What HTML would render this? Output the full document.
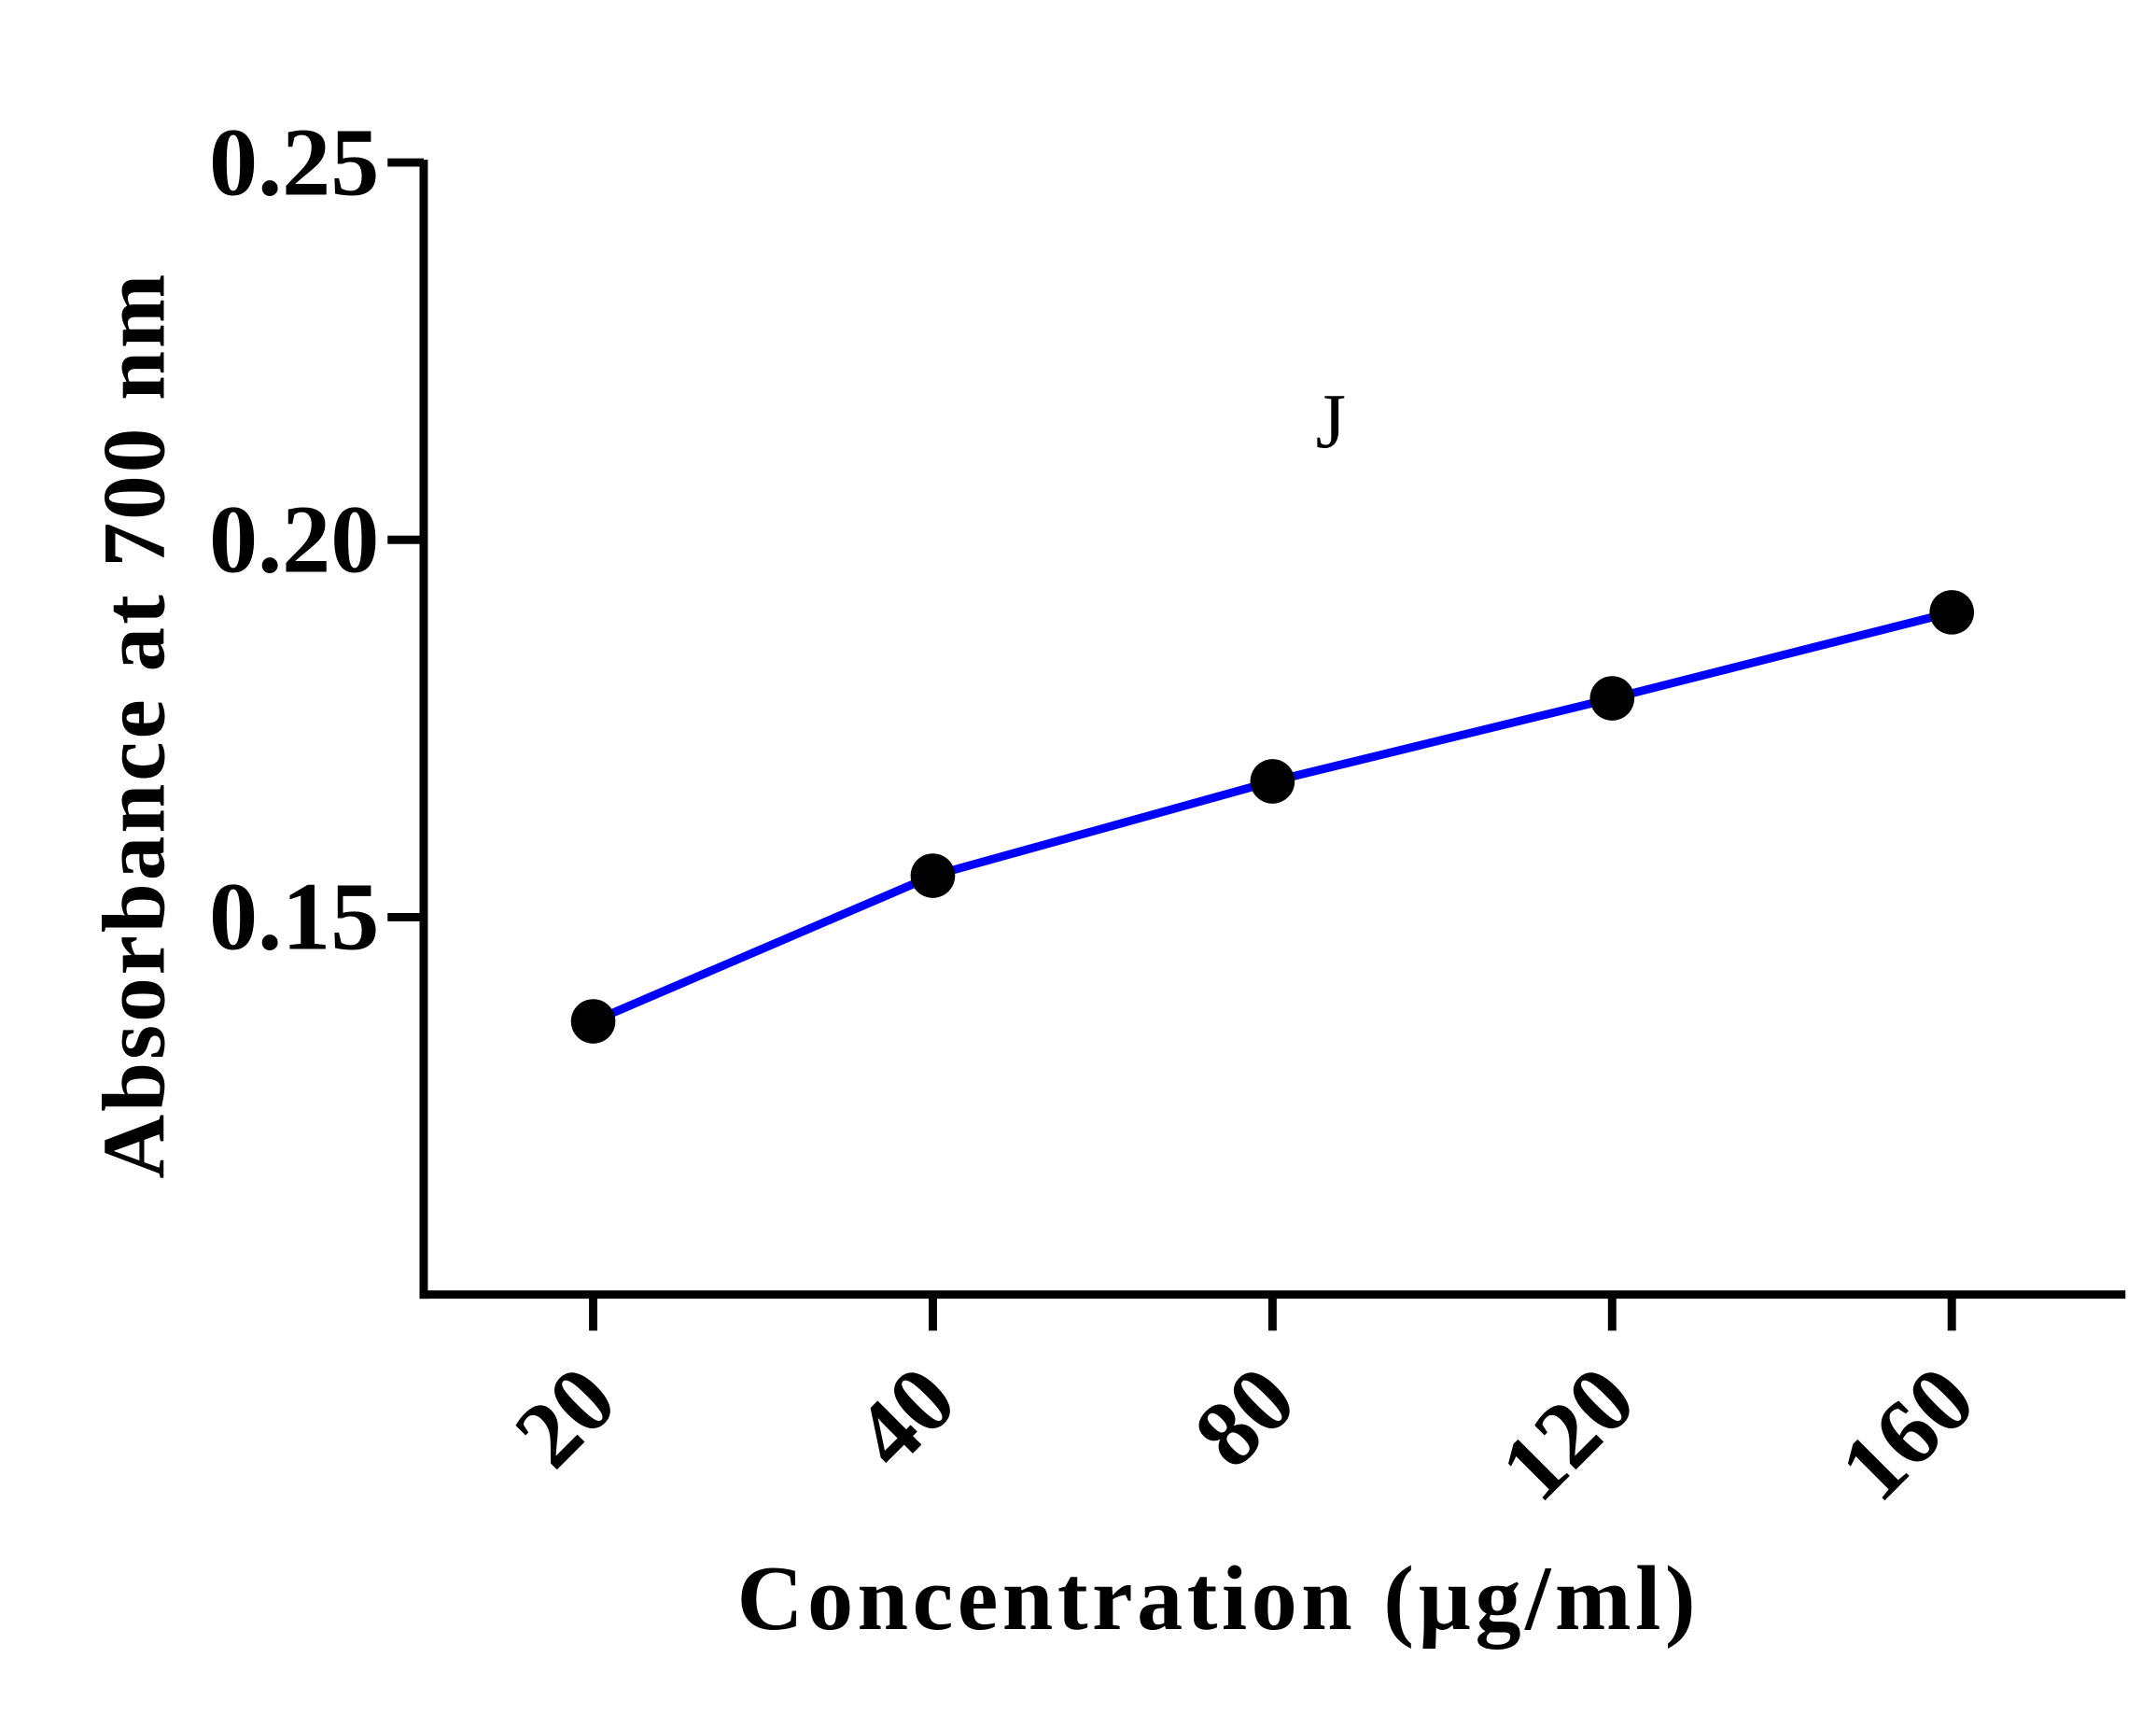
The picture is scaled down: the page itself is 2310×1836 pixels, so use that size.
<!DOCTYPE html>
<html><head><meta charset="utf-8"><style>html,body{margin:0;padding:0;background:#fff;}svg{display:block}</style></head>
<body>
<svg width="2310" height="1836" viewBox="0 0 1552 1234" preserveAspectRatio="none" xmlns="http://www.w3.org/2000/svg" font-family="'Liberation Serif', serif">
<g id="axes"></g>
<g id="marks"></g>
<text transform="translate(118,522) rotate(-90)" text-anchor="middle" font-size="64" font-weight="bold" letter-spacing="2">Absorbance at 700 nm</text>
<text x="877" y="1173" text-anchor="middle" font-size="66" font-weight="bold" letter-spacing="3">Concentration (µg/ml)</text>
<text x="958" y="322" text-anchor="middle" font-size="56">J</text>
</svg>
<script>
const categories = ["20","40","80","120","160"];
const values = [0.1362, 0.1555, 0.168, 0.179, 0.1904];
const yTicks = [0.15, 0.20, 0.25];
const yTickLabels = ["0.15","0.20","0.25"];
const ns="http://www.w3.org/2000/svg";
const x0=305,x1=1530,yTop=117,yBot=932,vMin=0.10,vMax=0.25;
function yScale(v){return yBot-(v-vMin)/(vMax-vMin)*(yBot-yTop);}
function xScale(i){return 427+i*244.5;}
function mk(tag,attrs,parent){const e=document.createElementNS(ns,tag);for(const k in attrs)e.setAttribute(k,attrs[k]);parent.appendChild(e);return e;}
const axes=document.getElementById('axes'),marks=document.getElementById('marks');
let l=mk('line',{x1:x0,y1:yTop-2,x2:x0,y2:yBot+3,stroke:'#000','stroke-width':6},axes);


l=mk('line',{x1:x0-3,y1:yBot,x2:x1,y2:yBot,stroke:'#000','stroke-width':6},axes);


yTicks.forEach((v,i)=>{
 const y=yScale(v);
 const t=mk('line',{x1:x0-26,y1:y,x2:x0,y2:y,stroke:'#000','stroke-width':6},axes);
 
 
 const tx=mk('text',{x:x0-32,y:y+23,'text-anchor':'end','font-size':70,'font-weight':'bold'},axes);
 tx.textContent=yTickLabels[i];
 
 
});
categories.forEach((c,i)=>{
 const x=xScale(i);
 const t=mk('line',{x1:x,y1:yBot,x2:x,y2:yBot+26,stroke:'#000','stroke-width':6},axes);
 
 
 const tx=mk('text',{transform:`translate(${x+20},${yBot+80}) rotate(-45)`,'text-anchor':'end','font-size':68,'font-weight':'bold'},axes);
 tx.textContent=c;
 
 
});
const pts=values.map((v,i)=>xScale(i)+','+yScale(v)).join(' ');
const pl=mk('polyline',{points:pts,fill:'none',stroke:'#0000ff','stroke-width':6},marks);


values.forEach((v,i)=>{
 const c=mk('circle',{cx:xScale(i),cy:yScale(v),r:16,fill:'#000'},marks);
 
 
});
</script>
</body></html>
